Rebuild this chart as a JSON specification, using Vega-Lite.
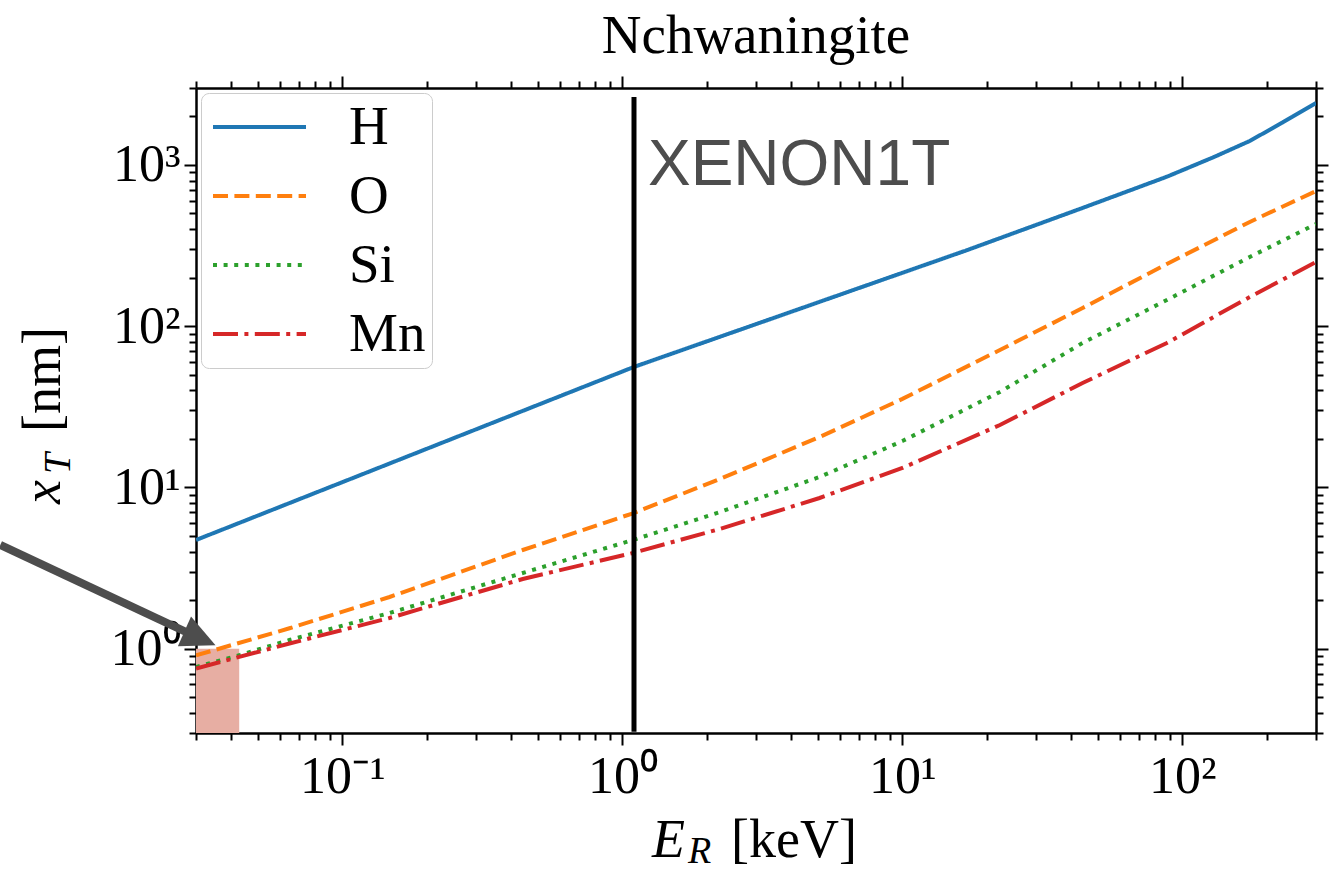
{
  "$schema": "https://vega.github.io/schema/vega-lite/v6.json",
  "width": 1120,
  "height": 645,
  "autosize": {"type": "none"},
  "padding": {"left": 196, "top": 88, "right": 16, "bottom": 140},
  "background": "white",
  "config": {
    "view": {"stroke": null},
    "axis": {"domainColor": "black", "domainWidth": 2.5, "tickColor": "black", "tickWidth": 2, "grid": false, "labelFont": "Liberation Serif", "labelFontSize": 52, "labelColor": "black", "labelOverlap": false, "labelFlush": false}
  },
  "datasets": {
    "curves": [
      {"E": 0.03, "xT": 4.72, "el": "H"}, {"E": 1.1, "xT": 55.9, "el": "H"}, {"E": 17.09, "xT": 297, "el": "H"}, {"E": 44.0, "xT": 541, "el": "H"}, {"E": 88.0, "xT": 845, "el": "H"}, {"E": 130, "xT": 1122, "el": "H"}, {"E": 174, "xT": 1408, "el": "H"}, {"E": 228, "xT": 1834, "el": "H"}, {"E": 300, "xT": 2422, "el": "H"},
      {"E": 0.03, "xT": 0.908, "el": "O"}, {"E": 0.0647, "xT": 1.338, "el": "O"}, {"E": 0.1474, "xT": 2.092, "el": "O"}, {"E": 0.4406, "xT": 4.093, "el": "O"}, {"E": 1.091, "xT": 6.914, "el": "O"}, {"E": 2.23, "xT": 11.28, "el": "O"}, {"E": 5.06, "xT": 20.55, "el": "O"}, {"E": 10.0, "xT": 35.4, "el": "O"}, {"E": 22.3, "xT": 71.2, "el": "O"}, {"E": 44.0, "xT": 129.7, "el": "O"}, {"E": 88.0, "xT": 243, "el": "O"}, {"E": 174, "xT": 443, "el": "O"}, {"E": 300, "xT": 689, "el": "O"},
      {"E": 0.03, "xT": 0.77, "el": "Si"}, {"E": 0.0431, "xT": 0.914, "el": "Si"}, {"E": 0.0647, "xT": 1.132, "el": "Si"}, {"E": 0.1474, "xT": 1.665, "el": "Si"}, {"E": 0.4406, "xT": 2.948, "el": "Si"}, {"E": 1.091, "xT": 4.722, "el": "Si"}, {"E": 2.23, "xT": 7.04, "el": "Si"}, {"E": 5.06, "xT": 11.61, "el": "Si"}, {"E": 10.0, "xT": 19.4, "el": "Si"}, {"E": 22.3, "xT": 39.1, "el": "Si"}, {"E": 44.0, "xT": 78.7, "el": "Si"}, {"E": 88.0, "xT": 145.4, "el": "Si"}, {"E": 174, "xT": 268.7, "el": "Si"}, {"E": 300, "xT": 430, "el": "Si"},
      {"E": 0.03, "xT": 0.754, "el": "Mn"}, {"E": 0.0647, "xT": 1.077, "el": "Mn"}, {"E": 0.1474, "xT": 1.55, "el": "Mn"}, {"E": 0.4406, "xT": 2.705, "el": "Mn"}, {"E": 1.091, "xT": 3.922, "el": "Mn"}, {"E": 2.23, "xT": 5.53, "el": "Mn"}, {"E": 5.06, "xT": 8.6, "el": "Mn"}, {"E": 10.0, "xT": 13.2, "el": "Mn"}, {"E": 22.3, "xT": 24.4, "el": "Mn"}, {"E": 44.0, "xT": 44.4, "el": "Mn"}, {"E": 88.0, "xT": 78.7, "el": "Mn"}, {"E": 174, "xT": 151.7, "el": "Mn"}, {"E": 300, "xT": 250, "el": "Mn"}
    ]
  },
  "layer": [
    {
      "data": {"values": [{"x0": 0.03, "x1": 0.0428, "y0": 0.3, "y1": 1.0}]},
      "mark": {"type": "rect", "color": "#e7aea3", "opacity": 1},
      "encoding": {
        "x": {"field": "x0", "type": "quantitative", "scale": {"type": "log", "domain": [0.03, 300], "nice": false},
              "axis": {"orient": "top", "labels": false, "title": null, "minExtent": 0, "maxExtent": 12,
                       "values": [0.03,0.04,0.05,0.06,0.07,0.08,0.09,0.1,0.2,0.3,0.4,0.5,0.6,0.7,0.8,0.9,1,2,3,4,5,6,7,8,9,10,20,30,40,50,60,70,80,90,100,200,300],
                       "tickSize": {"condition": {"test": "indexof([0.1,1,10,100], datum.value) >= 0", "value": 12}, "value": 7}}},
        "x2": {"field": "x1"},
        "y": {"field": "y0", "type": "quantitative", "scale": {"type": "log", "domain": [0.3, 3000], "nice": false},
              "axis": {"orient": "right", "labels": false, "title": null, "minExtent": 0, "maxExtent": 12,
                       "values": [0.3,0.4,0.5,0.6,0.7,0.8,0.9,1,2,3,4,5,6,7,8,9,10,20,30,40,50,60,70,80,90,100,200,300,400,500,600,700,800,900,1000,2000,3000],
                       "tickSize": {"condition": {"test": "indexof([1,10,100,1000], datum.value) >= 0", "value": 12}, "value": 7}}},
        "y2": {"field": "y1"}
      }
    },
    {
      "data": {"name": "curves"},
      "mark": {"type": "line", "strokeWidth": 4, "clip": true},
      "encoding": {
        "x": {"field": "E", "type": "quantitative", "scale": {"type": "log", "domain": [0.03, 300], "nice": false},
              "axis": {"orient": "bottom", "title": null,
                       "values": [0.03,0.04,0.05,0.06,0.07,0.08,0.09,0.1,0.2,0.3,0.4,0.5,0.6,0.7,0.8,0.9,1,2,3,4,5,6,7,8,9,10,20,30,40,50,60,70,80,90,100,200,300],
                       "labelExpr": "datum.value == 0.1 ? '10⁻¹' : datum.value == 1 ? '10⁰' : datum.value == 10 ? '10¹' : datum.value == 100 ? '10²' : ''",
                       "labelPadding": 6,
                       "tickSize": {"condition": {"test": "indexof([0.1,1,10,100], datum.value) >= 0", "value": 12}, "value": 7}}},
        "y": {"field": "xT", "type": "quantitative", "scale": {"type": "log", "domain": [0.3, 3000], "nice": false},
              "axis": {"orient": "left", "title": null,
                       "values": [0.3,0.4,0.5,0.6,0.7,0.8,0.9,1,2,3,4,5,6,7,8,9,10,20,30,40,50,60,70,80,90,100,200,300,400,500,600,700,800,900,1000,2000,3000],
                       "labelExpr": "datum.value == 1 ? '10⁰' : datum.value == 10 ? '10¹' : datum.value == 100 ? '10²' : datum.value == 1000 ? '10³' : ''",
                       "labelPadding": 4,
                       "tickSize": {"condition": {"test": "indexof([1,10,100,1000], datum.value) >= 0", "value": 12}, "value": 7}}},
        "color": {"field": "el", "type": "nominal", "scale": {"domain": ["H", "O", "Si", "Mn"], "range": ["#1f77b4", "#ff7f0e", "#2ca02c", "#d62728"]},
                  "legend": {"orient": "none", "legendX": 5, "legendY": 5, "title": null, "symbolType": "M-0.846,0L2.731,0", "symbolSize": 2704, "symbolStrokeWidth": 4,
                             "labelFont": "Liberation Serif", "labelFontSize": 55, "labelColor": "black", "labelOffset": 86, "rowPadding": 13, "padding": 6,
                             "fillColor": "rgba(255,255,255,0.8)", "strokeColor": "#cccccc", "cornerRadius": 8}},
        "strokeDash": {"field": "el", "type": "nominal", "scale": {"domain": ["H", "O", "Si", "Mn"], "range": [[1, 0], [15, 6.4], [4, 6.6], [25, 6.4, 4, 6.4]]}},
        "order": {"field": "E", "type": "quantitative"}
      }
    },
    {
      "data": {"values": [{"E": 1.1, "y0": 0.305, "y1": 2640}]},
      "mark": {"type": "rule", "color": "black", "strokeWidth": 5},
      "encoding": {
        "x": {"field": "E", "type": "quantitative", "axis": null, "scale": {"type": "log", "domain": [0.03, 300], "nice": false}},
        "y": {"field": "y0", "type": "quantitative", "axis": null, "scale": {"type": "log", "domain": [0.3, 3000], "nice": false}},
        "y2": {"field": "y1"}
      }
    },
    {
      "data": {"values": [{"E": 1.1, "v": 750, "label": "XENON1T"}]},
      "mark": {"type": "text", "font": "Liberation Sans", "fontSize": 64, "color": "#4d4d4d", "align": "left", "baseline": "alphabetic", "dx": 14},
      "encoding": {
        "x": {"field": "E", "type": "quantitative", "axis": null, "scale": {"type": "log", "domain": [0.03, 300], "nice": false}},
        "y": {"field": "v", "type": "quantitative", "axis": null, "scale": {"type": "log", "domain": [0.3, 3000], "nice": false}},
        "text": {"field": "label"}
      }
    },
    {
      "data": {"values": [{"E": 3.0, "v": 4944, "t": "Nchwaningite"}]},
      "mark": {"type": "text", "font": "Liberation Serif", "fontSize": 55, "color": "black", "align": "center", "baseline": "alphabetic", "clip": false},
      "encoding": {
        "x": {"field": "E", "type": "quantitative", "axis": null, "scale": {"type": "log", "domain": [0.03, 300], "nice": false}},
        "y": {"field": "v", "type": "quantitative", "axis": null, "scale": {"type": "log", "domain": [0.3, 3000], "nice": false}},
        "text": {"field": "t"}
      }
    },
    {
      "data": {"values": [{"E": 3.0, "v": 0.0511, "t": "E"}]},
      "mark": {"type": "text", "font": "Liberation Serif", "fontSize": 54, "fontStyle": "italic", "color": "black", "align": "left", "baseline": "alphabetic", "dx": -104, "clip": false},
      "encoding": {
        "x": {"field": "E", "type": "quantitative", "axis": null, "scale": {"type": "log", "domain": [0.03, 300], "nice": false}},
        "y": {"field": "v", "type": "quantitative", "axis": null, "scale": {"type": "log", "domain": [0.3, 3000], "nice": false}},
        "text": {"field": "t"}
      }
    },
    {
      "data": {"values": [{"E": 3.0, "v": 0.0511, "t": "R"}]},
      "mark": {"type": "text", "font": "Liberation Serif", "fontSize": 38, "fontStyle": "italic", "color": "black", "align": "left", "baseline": "alphabetic", "dx": -68, "dy": 6, "clip": false},
      "encoding": {
        "x": {"field": "E", "type": "quantitative", "axis": null, "scale": {"type": "log", "domain": [0.03, 300], "nice": false}},
        "y": {"field": "v", "type": "quantitative", "axis": null, "scale": {"type": "log", "domain": [0.3, 3000], "nice": false}},
        "text": {"field": "t"}
      }
    },
    {
      "data": {"values": [{"E": 3.0, "v": 0.0511, "t": "[keV]"}]},
      "mark": {"type": "text", "font": "Liberation Serif", "fontSize": 54, "color": "black", "align": "left", "baseline": "alphabetic", "dx": -25, "clip": false},
      "encoding": {
        "x": {"field": "E", "type": "quantitative", "axis": null, "scale": {"type": "log", "domain": [0.03, 300], "nice": false}},
        "y": {"field": "v", "type": "quantitative", "axis": null, "scale": {"type": "log", "domain": [0.3, 3000], "nice": false}},
        "text": {"field": "t"}
      }
    },
    {
      "data": {"values": [{"E": 0.00978, "v": 7.9, "t": "x"}]},
      "mark": {"type": "text", "font": "Liberation Serif", "fontSize": 54, "fontStyle": "italic", "color": "black", "align": "left", "baseline": "alphabetic", "angle": 270, "clip": false},
      "encoding": {
        "x": {"field": "E", "type": "quantitative", "axis": null, "scale": {"type": "log", "domain": [0.03, 300], "nice": false}},
        "y": {"field": "v", "type": "quantitative", "axis": null, "scale": {"type": "log", "domain": [0.3, 3000], "nice": false}},
        "text": {"field": "t"}
      }
    },
    {
      "data": {"values": [{"E": 0.00978, "v": 7.9, "t": "T"}]},
      "mark": {"type": "text", "font": "Liberation Serif", "fontSize": 38, "fontStyle": "italic", "color": "black", "align": "left", "baseline": "alphabetic", "angle": 270, "dx": 30, "dy": 10, "clip": false},
      "encoding": {
        "x": {"field": "E", "type": "quantitative", "axis": null, "scale": {"type": "log", "domain": [0.03, 300], "nice": false}},
        "y": {"field": "v", "type": "quantitative", "axis": null, "scale": {"type": "log", "domain": [0.3, 3000], "nice": false}},
        "text": {"field": "t"}
      }
    },
    {
      "data": {"values": [{"E": 0.00978, "v": 7.9, "t": "[nm]"}]},
      "mark": {"type": "text", "font": "Liberation Serif", "fontSize": 54, "color": "black", "align": "left", "baseline": "alphabetic", "angle": 270, "dx": 72, "clip": false},
      "encoding": {
        "x": {"field": "E", "type": "quantitative", "axis": null, "scale": {"type": "log", "domain": [0.03, 300], "nice": false}},
        "y": {"field": "v", "type": "quantitative", "axis": null, "scale": {"type": "log", "domain": [0.3, 3000], "nice": false}},
        "text": {"field": "t"}
      }
    },
    {
      "data": {"values": [{"xa": 0.006, "ya": 4.4, "xb": 0.0276, "yb": 1.27}]},
      "mark": {"type": "rule", "color": "#4d4d4d", "strokeWidth": 8, "clip": false},
      "encoding": {
        "x": {"field": "xa", "type": "quantitative", "axis": null, "scale": {"type": "log", "domain": [0.03, 300], "nice": false}},
        "y": {"field": "ya", "type": "quantitative", "axis": null, "scale": {"type": "log", "domain": [0.3, 3000], "nice": false}},
        "x2": {"field": "xb"},
        "y2": {"field": "yb"}
      }
    },
    {
      "data": {"values": [{"E": 0.031, "v": 1.16}]},
      "mark": {"type": "point", "shape": "M-1,-0.95L1,0L-1,0.95Z", "size": 1156, "angle": 24, "filled": true, "color": "#4d4d4d", "opacity": 1, "strokeWidth": 0, "clip": false},
      "encoding": {
        "x": {"field": "E", "type": "quantitative", "axis": null, "scale": {"type": "log", "domain": [0.03, 300], "nice": false}},
        "y": {"field": "v", "type": "quantitative", "axis": null, "scale": {"type": "log", "domain": [0.3, 3000], "nice": false}}
      }
    }
  ],
  "resolve": {"axis": {"x": "independent", "y": "independent"}}
}
